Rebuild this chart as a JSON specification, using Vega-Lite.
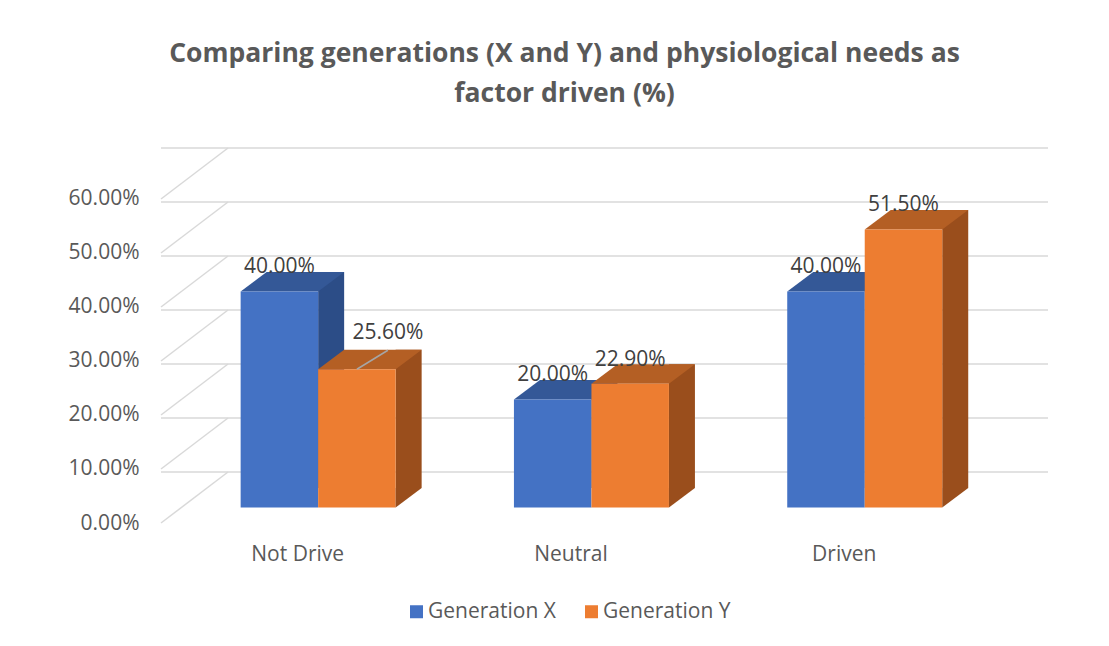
{
  "$schema": "https://vega.github.io/schema/vega-lite/v6.json",
  "width": 887,
  "height": 375,
  "autosize": {"type": "none"},
  "padding": {"left": 161, "top": 148, "right": 61, "bottom": 123},
  "background": "white",
  "title": {
    "text": ["Comparing generations (X and Y) and physiological needs as", "factor driven (%)"],
    "font": "Open Sans",
    "fontSize": 26.5,
    "fontWeight": "bold",
    "color": "#595959",
    "lineHeight": 40,
    "anchor": "middle",
    "frame": "group",
    "dx": -40,
    "offset": 37
  },
  "datasets": {
    "bars": [
      {"cat": "Not Drive", "series": "Generation X", "value": 0.40},
      {"cat": "Not Drive", "series": "Generation Y", "value": 0.256},
      {"cat": "Neutral", "series": "Generation X", "value": 0.20},
      {"cat": "Neutral", "series": "Generation Y", "value": 0.229},
      {"cat": "Driven", "series": "Generation X", "value": 0.40},
      {"cat": "Driven", "series": "Generation Y", "value": 0.515}
    ],
    "ticks": [
      {"tick": 0}, {"tick": 0.1}, {"tick": 0.2}, {"tick": 0.3}, {"tick": 0.4}, {"tick": 0.5}, {"tick": 0.6}
    ]
  },
  "encoding": {
    "x": {
      "field": "cat", "type": "nominal", "sort": ["Not Drive", "Neutral", "Driven"],
      "scale": {"domain": ["Not Drive", "Neutral", "Driven"], "paddingInner": 0, "paddingOuter": 0.1228, "align": 0},
      "axis": {"title": null, "labelAngle": 0, "domain": false, "ticks": false, "grid": false, "labelPadding": 20, "labelFont": "Open Sans", "labelFontSize": 21, "labelColor": "#595959"}
    },
    "y": {
      "field": "value", "type": "quantitative",
      "scale": {"domain": [0, 0.694444], "nice": false, "zero": true},
      "axis": {"title": null, "values": [0, 0.1, 0.2, 0.3, 0.4, 0.5, 0.6], "format": ".2%", "domain": false, "ticks": false, "grid": false, "labelPadding": 22, "labelFont": "Open Sans", "labelFontSize": 21, "labelColor": "#595959"}
    }
  },
  "layer": [
    {
      "data": {"name": "ticks"},
      "mark": {"type": "rule", "color": "#D9D9D9", "strokeWidth": 1.5, "x2Offset": 67, "yOffset": -51},
      "encoding": {
        "x": null,
        "y": {"field": "tick", "type": "quantitative"}
      }
    },
    {
      "data": {"name": "ticks"},
      "mark": {"type": "point", "shape": "M 0 0 L 67 -51", "size": 4, "filled": false, "opacity": 1, "stroke": "#D9D9D9", "strokeWidth": 1.5},
      "encoding": {
        "x": {"datum": "Not Drive", "type": "nominal", "bandPosition": 0},
        "y": {"field": "tick", "type": "quantitative"}
      }
    },
    {
      "data": {"name": "bars"},
      "layer": [
        {
          "transform": [{"filter": "datum.series === 'Generation X'"}],
          "mark": {"type": "bar", "width": 26, "color": "#2C4D87", "xOffset": 33.5, "yOffset": -35, "y2Offset": -35}
        },
        {
          "transform": [{"filter": "datum.series === 'Generation X'"}],
          "mark": {"type": "point", "shape": "M -38.75 0 L 38.75 0 L 64.75 -19.5 L -12.75 -19.5 Z", "size": 4, "filled": true, "opacity": 1, "color": "#345897", "strokeWidth": 0, "xOffset": -18.25, "yOffset": -15.5}
        },
        {
          "transform": [{"filter": "datum.series === 'Generation X'"}],
          "mark": {"type": "bar", "width": 77.5, "xOffset": -18.25, "yOffset": -15.5, "y2Offset": -15.5},
          "encoding": {
            "color": {"field": "series", "type": "nominal", "scale": {"domain": ["Generation X", "Generation Y"], "range": ["#4472C4", "#ED7D31"]},
              "legend": {"title": null, "orient": "none", "direction": "horizontal", "legendX": 245, "legendY": 453, "symbolType": "square", "symbolSize": 169, "symbolStrokeWidth": 0, "labelFont": "Open Sans", "labelFontSize": 21, "labelColor": "#595959", "labelOffset": 1, "columnPadding": 25, "padding": 0}}
          }
        },
        {
          "transform": [{"filter": "datum.series === 'Generation Y'"}],
          "mark": {"type": "bar", "width": 26, "color": "#9A4E1C", "xOffset": 111, "yOffset": -35, "y2Offset": -35}
        },
        {
          "transform": [{"filter": "datum.series === 'Generation Y'"}],
          "mark": {"type": "point", "shape": "M -38.75 0 L 38.75 0 L 64.75 -19.5 L -12.75 -19.5 Z", "size": 4, "filled": true, "opacity": 1, "color": "#B45F24", "strokeWidth": 0, "xOffset": 59.25, "yOffset": -15.5}
        },
        {
          "transform": [{"filter": "datum.series === 'Generation Y'"}],
          "mark": {"type": "bar", "width": 77.5, "xOffset": 59.25, "yOffset": -15.5, "y2Offset": -15.5},
          "encoding": {
            "color": {"field": "series", "type": "nominal"}
          }
        },
        {
          "transform": [{"filter": "datum.series === 'Generation Y'"}],
          "mark": {"type": "point", "shape": "M 0 0 L 0 -19.5 L 26 -19.5 Z", "size": 4, "filled": true, "opacity": 1, "color": "#9A4E1C", "strokeWidth": 0, "xOffset": 98, "yOffset": -15.5},
          "encoding": {"y": {"datum": 0, "type": "quantitative"}}
        },
        {
          "transform": [{"filter": "datum.series === 'Generation X'"}],
          "mark": {"type": "text", "font": "Open Sans", "fontSize": 21, "color": "#404040", "baseline": "middle", "xOffset": -18.25, "yOffset": -39.5},
          "encoding": {"text": {"field": "value", "format": ".2%"}}
        },
        {
          "transform": [{"filter": "datum.series === 'Generation Y' && datum.cat !== 'Not Drive'"}],
          "mark": {"type": "text", "font": "Open Sans", "fontSize": 21, "color": "#404040", "baseline": "middle", "xOffset": 59.25, "yOffset": -39.5},
          "encoding": {"text": {"field": "value", "format": ".2%"}}
        },
        {
          "transform": [{"filter": "datum.series === 'Generation Y' && datum.cat === 'Not Drive'"}],
          "mark": {"type": "point", "shape": "M 0 0 L 31 -19", "size": 4, "filled": false, "opacity": 1, "stroke": "#A6A6A6", "strokeWidth": 1.5, "xOffset": 59.25, "yOffset": -15.5}
        },
        {
          "transform": [{"filter": "datum.series === 'Generation Y' && datum.cat === 'Not Drive'"}],
          "mark": {"type": "text", "font": "Open Sans", "fontSize": 21, "color": "#404040", "baseline": "middle", "xOffset": 90.25, "yOffset": -51.5},
          "encoding": {"text": {"field": "value", "format": ".2%"}}
        }
      ]
    }
  ],
  "config": {"view": {"stroke": null}}
}
